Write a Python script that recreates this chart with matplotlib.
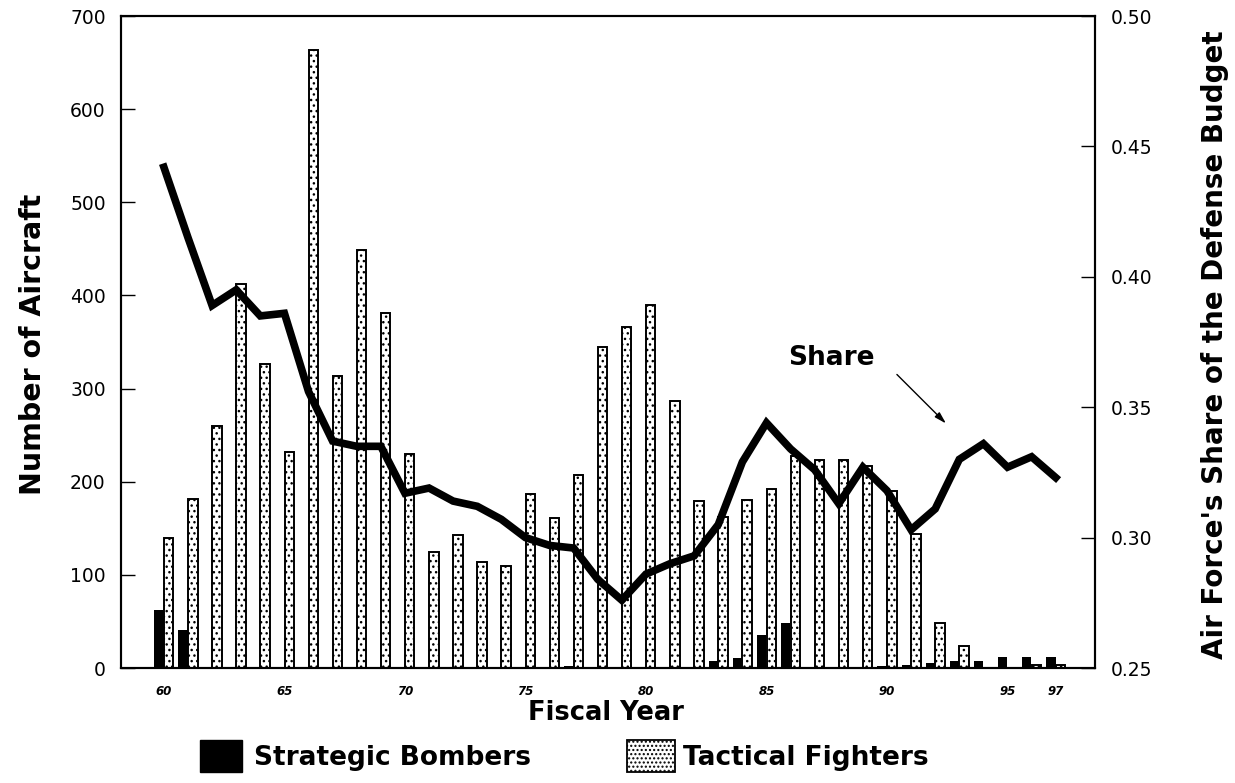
import numpy as np
import matplotlib
matplotlib.use("Agg")
import matplotlib.pyplot as plt
from matplotlib.patches import Rectangle

plt.rcParams["font.family"] = ["DejaVu Sans"]
plt.rcParams["hatch.linewidth"] = 1.0

# --- data -------------------------------------------------------------------
years = list(range(60, 98))
bombers = [62, 41, 0, 0, 0, 0, 0, 0, 0, 0,
           0, 0, 0, 0, 0, 0, 0, 2, 0, 0,
           0, 0, 0, 7, 11, 35, 48, 0, 1, 1,
           2, 3, 5, 8, 8, 12, 12, 12]
fighters = [140, 181, 260, 412, 326, 232, 664, 313, 449, 381,
            230, 125, 143, 114, 110, 187, 161, 207, 345, 366,
            390, 287, 179, 162, 180, 192, 228, 223, 223, 217,
            190, 144, 48, 24, 0, 0, 3, 3]
share = [0.442, 0.415, 0.389, 0.395, 0.385, 0.386, 0.356, 0.337, 0.335, 0.335,
         0.317, 0.319, 0.314, 0.312, 0.307, 0.300, 0.297, 0.296, 0.284, 0.276,
         0.286, 0.290, 0.293, 0.305, 0.329, 0.344, 0.334, 0.326, 0.313, 0.327,
         0.318, 0.303, 0.311, 0.330, 0.336, 0.327, 0.331, 0.323]
xticks = [60, 65, 70, 75, 80, 85, 90, 95, 97]

W, H = 1235, 783
fig = plt.figure(figsize=(W / 100, H / 100), dpi=100)
ax = fig.add_axes([121 / W, (H - 668) / H, (1095 - 121) / W, (668 - 16) / H])

x = np.array(years)
ax.bar(x - 0.2, bombers, width=0.39, color="black", zorder=2)
ax.bar(x + 0.2, fighters, width=0.39, facecolor="white", edgecolor="black",
       hatch="...", linewidth=1.4, zorder=2)

ax.set_xlim(58.22, 98.63)
ax.set_ylim(0, 700)
ax.set_yticks(range(0, 701, 100))
ax.tick_params(axis="y", direction="in", length=10, width=1, labelsize=13.5, pad=11)
ax.set_xticks(xticks)
ax.set_xticklabels([str(t) for t in xticks], fontsize=8.5, fontweight="bold", style="italic")
ax.tick_params(axis="x", length=0, pad=12)

ax2 = ax.twinx()
ax2.plot(years, share, color="black", lw=5.5, solid_joinstyle="miter", zorder=3)
ax2.set_ylim(0.25, 0.50)
ax2.set_yticks([0.25, 0.30, 0.35, 0.40, 0.45, 0.50])
ax2.set_yticklabels(["0.25", "0.30", "0.35", "0.40", "0.45", "0.50"])
ax2.tick_params(axis="y", direction="in", length=10, width=1, labelsize=13.5, pad=11)

for a in (ax, ax2):
    for s in a.spines.values():
        s.set_linewidth(1.5)

# annotation
ax2.text(87.68, 0.3687, "Share", fontsize=19, fontweight="bold", ha="center", va="center")
ax2.annotate("", xy=(92.53, 0.343), xytext=(90.33, 0.3633),
             arrowprops=dict(arrowstyle="-|>,head_length=0.7,head_width=0.2",
                             color="black", lw=1))

# axis titles
fig.text(33 / W, 1 - 344 / H, "Number of Aircraft", rotation=90, fontsize=20.5,
         fontweight="bold", ha="center", va="center")
fig.text(1215 / W, 1 - 345 / H, "Air Force's Share of the Defense Budget", rotation=90,
         fontsize=20, fontweight="bold", ha="center", va="center")
fig.text(606 / W, 1 - 713 / H, "Fiscal Year", fontsize=18.5, fontweight="bold",
         ha="center", va="center")

# legend
fig.patches.append(Rectangle((200 / W, 1 - 772 / H), 42 / W, 32 / H, transform=fig.transFigure,
                             facecolor="black", edgecolor="black"))
fig.patches.append(Rectangle((627 / W, 1 - 772 / H), 48 / W, 32 / H, transform=fig.transFigure,
                             facecolor="white", edgecolor="black", hatch="....", lw=1.3))
fig.text(254 / W, 1 - 758 / H, "Strategic Bombers", fontsize=19, fontweight="bold",
         ha="left", va="center")
fig.text(683 / W, 1 - 758 / H, "Tactical Fighters", fontsize=19, fontweight="bold",
         ha="left", va="center")

fig.savefig("out.png", dpi=100)
